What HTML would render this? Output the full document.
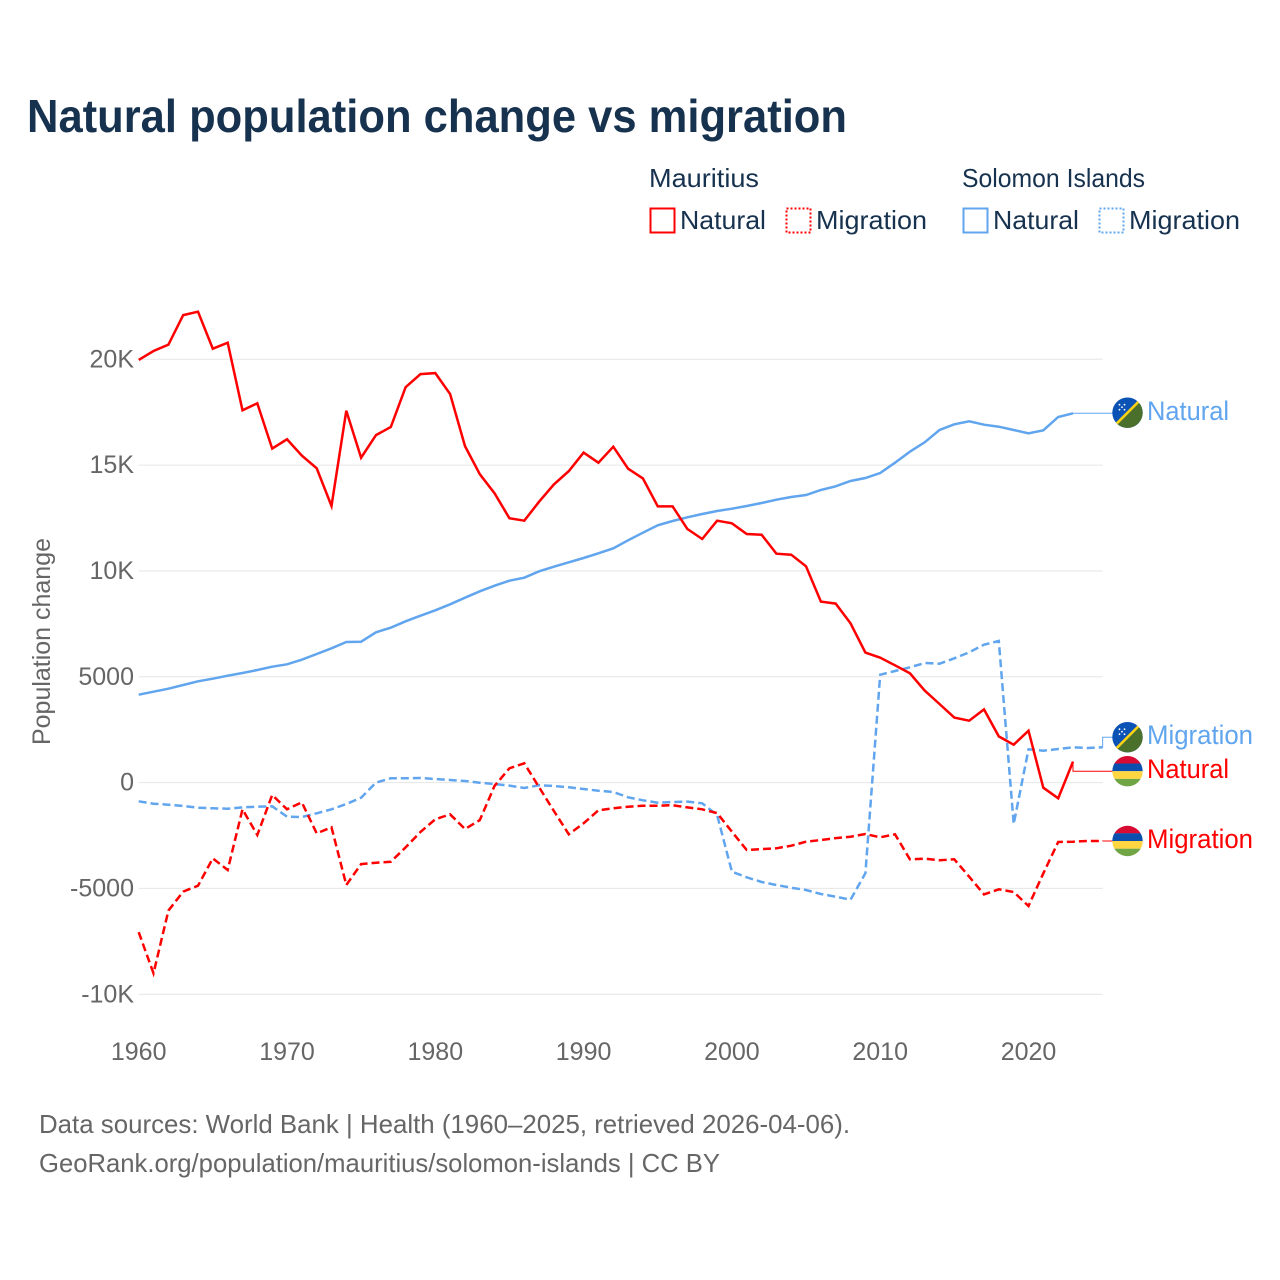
<!DOCTYPE html>
<html lang="en">
<head>
<meta charset="utf-8">
<title>Natural population change vs migration</title>
<style>
html,body{margin:0;padding:0;background:#fff;}
svg{display:block;font-family:"Liberation Sans",sans-serif;}
</style>
</head>
<body>
<svg id="chart" xmlns="http://www.w3.org/2000/svg" width="1280" height="1280" viewBox="0 0 1280 1280">
  <defs>
    <clipPath id="flag-clip"><circle cx="0" cy="0" r="15.2"/></clipPath>
    <symbol id="flag-sb" overflow="visible">
      <g clip-path="url(#flag-clip)">
        <rect x="-16" y="-16" width="32" height="32" fill="#0b52b5"/>
        <polygon points="16,-16 16,16 -16,16" fill="#4a702c"/>
        <line x1="-16" y1="16" x2="16" y2="-16" stroke="#fcd116" stroke-width="2.6"/>
        <g fill="#fff">
          <circle cx="-8" cy="-8" r="0.9"/><circle cx="-3" cy="-8" r="0.9"/><circle cx="-5.5" cy="-5.5" r="0.9"/><circle cx="-8" cy="-3" r="0.9"/><circle cx="-3" cy="-3" r="0.9"/>
        </g>
      </g>
    </symbol>
    <symbol id="flag-mu" overflow="visible">
      <g clip-path="url(#flag-clip)">
        <rect x="-16" y="-16" width="32" height="8.4" fill="#d80c32"/>
        <rect x="-16" y="-7.7" width="32" height="7.7" fill="#0b4fae"/>
        <rect x="-16" y="0" width="32" height="7.7" fill="#ffd642"/>
        <rect x="-16" y="7.7" width="32" height="8.4" fill="#70a545"/>
      </g>
    </symbol>
  </defs>

  <text x="27" y="132" font-size="46" font-weight="700" fill="#17324f" textLength="820" lengthAdjust="spacingAndGlyphs">Natural population change vs migration</text>

  <g font-size="26" fill="#17324f">
    <text x="649" y="187" textLength="110" lengthAdjust="spacingAndGlyphs">Mauritius</text>
    <text x="962" y="187" textLength="183" lengthAdjust="spacingAndGlyphs">Solomon Islands</text>
    <g>
      <rect x="650.5" y="208.5" width="24" height="24" fill="none" stroke="#ff0000" stroke-width="2"/>
      <text x="680" y="229" textLength="86" lengthAdjust="spacingAndGlyphs">Natural</text>
    </g>
    <g>
      <rect x="786.5" y="208.5" width="24" height="24" fill="none" stroke="#ff0000" stroke-width="2" stroke-dasharray="2 2"/>
      <text x="816" y="229" textLength="111" lengthAdjust="spacingAndGlyphs">Migration</text>
    </g>
    <g>
      <rect x="963.5" y="208.5" width="24" height="24" fill="none" stroke="#60a5ee" stroke-width="2"/>
      <text x="993" y="229" textLength="86" lengthAdjust="spacingAndGlyphs">Natural</text>
    </g>
    <g>
      <rect x="1099.5" y="208.5" width="24" height="24" fill="none" stroke="#60a5ee" stroke-width="2" stroke-dasharray="2 2"/>
      <text x="1129" y="229" textLength="111" lengthAdjust="spacingAndGlyphs">Migration</text>
    </g>
  </g>

  <g id="grid"></g>
  <g id="y-ticks" font-size="25" fill="#666666" text-anchor="end"></g>
  <g id="x-ticks" font-size="25" fill="#666666" text-anchor="middle"></g>
  <text transform="translate(50 745) rotate(-90)" font-size="25" fill="#666666" textLength="207" lengthAdjust="spacingAndGlyphs">Population change</text>

  <g id="series"></g>

  <g font-size="27">
    <use href="#flag-sb" x="1127.5" y="412.7"/>
    <text x="1147" y="420" fill="#60a5ee" textLength="82" lengthAdjust="spacingAndGlyphs">Natural</text>
    <use href="#flag-sb" x="1127.5" y="737.2"/>
    <text x="1147" y="744" fill="#60a5ee" textLength="106" lengthAdjust="spacingAndGlyphs">Migration</text>
    <use href="#flag-mu" x="1127.5" y="771.2"/>
    <text x="1147" y="778" fill="#ff0000" textLength="82" lengthAdjust="spacingAndGlyphs">Natural</text>
    <use href="#flag-mu" x="1127.5" y="841"/>
    <text x="1147" y="848" fill="#ff0000" textLength="106" lengthAdjust="spacingAndGlyphs">Migration</text>
  </g>

  <g font-size="26" fill="#666666">
    <text x="39" y="1133" textLength="811" lengthAdjust="spacingAndGlyphs">Data sources: World Bank | Health (1960–2025, retrieved 2026-04-06).</text>
    <text x="39" y="1172" textLength="681" lengthAdjust="spacingAndGlyphs">GeoRank.org/population/mauritius/solomon-islands | CC BY</text>
  </g>
</svg>
<script>
var startYear = 1960;
var xTickYears = [1960, 1970, 1980, 1990, 2000, 2010, 2020];
var yTickValues = [20000, 15000, 10000, 5000, 0, -5000, -10000];
var yTickLabels = ["20K", "15K", "10K", "5000", "0", "-5000", "-10K"];

var mauritiusNatural = [19970, 20390, 20690, 22090, 22250, 20500, 20785, 17590, 17920, 15780, 16220, 15450, 14850, 13070, 17570, 15350, 16420, 16800, 18680, 19300, 19350, 18360, 15900, 14570, 13670, 12490, 12375, 13270, 14090, 14720, 15590, 15115, 15870, 14830, 14375, 13050, 13050, 11980, 11510, 12375, 12250, 11745, 11715, 10815, 10770, 10220, 8550, 8455, 7525, 6140, 5900, 5540, 5165, 4345, 3715, 3070, 2925, 3460, 2185, 1790, 2450, -240, -740, 990];
var mauritiusMigration = [-7070, -9010, -6050, -5150, -4870, -3580, -4130, -1260, -2475, -585, -1260, -930, -2400, -2110, -4840, -3850, -3785, -3740, -3060, -2330, -1735, -1500, -2190, -1770, -150, 675, 910, -220, -1340, -2445, -1925, -1310, -1215, -1140, -1090, -1090, -1070, -1170, -1260, -1440, -2320, -3185, -3140, -3105, -2980, -2790, -2710, -2620, -2555, -2430, -2585, -2445, -3625, -3595, -3670, -3625, -4445, -5280, -5040, -5170, -5830, -4290, -2805, -2790, -2760, -2760];
var solomonNatural = [4155, 4295, 4437, 4611, 4787, 4909, 5051, 5178, 5320, 5476, 5589, 5807, 6076, 6345, 6643, 6657, 7101, 7319, 7621, 7886, 8141, 8424, 8737, 9040, 9302, 9540, 9681, 9985, 10202, 10408, 10611, 10835, 11071, 11449, 11808, 12157, 12360, 12535, 12691, 12833, 12941, 13069, 13210, 13366, 13494, 13588, 13825, 13999, 14250, 14392, 14628, 15115, 15634, 16078, 16660, 16929, 17071, 16910, 16815, 16660, 16504, 16645, 17274, 17449];
var solomonMigration = [-885, -995, -1042, -1105, -1185, -1216, -1232, -1169, -1137, -1122, -1610, -1626, -1452, -1263, -1012, -712, 0, 202, 202, 218, 171, 124, 76, -3, -66, -143, -255, -129, -160, -223, -302, -381, -444, -696, -838, -948, -916, -900, -979, -1531, -4208, -4476, -4697, -4838, -4964, -5075, -5264, -5390, -5533, -4285, 5100, 5273, 5446, 5650, 5620, 5872, 6155, 6517, 6690, -1956, 1571, 1508, 1587, 1666, 1635, 1666];

var SVGNS = "http://www.w3.org/2000/svg";
function xScale(year) { return 138.7 + (year - 1960) * 14.83; }
function yScale(value) { return 782.6 - value * 0.021165; }

function make(tag, parent, name) {
  var el = document.createElementNS(SVGNS, tag);
  
  
  parent.appendChild(el);
  return el;
}

var gridGroup = document.getElementById('grid');
var yTickGroup = document.getElementById('y-ticks');
var xTickGroup = document.getElementById('x-ticks');
var seriesGroup = document.getElementById('series');

yTickValues.forEach(function (value, i) {
  var line = make('line', gridGroup, 'gridline-' + yTickLabels[i]);
  line.setAttribute('x1', xScale(1960));
  line.setAttribute('x2', xScale(2025));
  line.setAttribute('y1', yScale(value));
  line.setAttribute('y2', yScale(value));
  line.setAttribute('stroke', '#e6e6e6');
  line.setAttribute('stroke-width', '1');
  var label = make('text', yTickGroup, 'y-tick-' + yTickLabels[i]);
  label.setAttribute('x', 134);
  label.setAttribute('y', yScale(value) + 8);
  label.textContent = yTickLabels[i];
});

xTickYears.forEach(function (year) {
  var label = make('text', xTickGroup, 'x-tick-' + year);
  label.setAttribute('x', xScale(year));
  label.setAttribute('y', 1060);
  label.textContent = String(year);
});

function pointsFor(values) {
  return values.map(function (value, i) {
    return xScale(startYear + i).toFixed(1) + ',' + yScale(value).toFixed(1);
  }).join(' ');
}

function drawSeries(values, name, color, dashed, flagY) {
  var line = make('polyline', seriesGroup, 'line-' + name);
  line.setAttribute('points', pointsFor(values));
  line.setAttribute('fill', 'none');
  line.setAttribute('stroke', color);
  line.setAttribute('stroke-width', '2.5');
  line.setAttribute('stroke-linejoin', 'miter');
  if (dashed) {
    line.setAttribute('stroke-dasharray', '8 4');
  }
  var lastX = xScale(startYear + values.length - 1);
  var lastY = yScale(values[values.length - 1]);
  var connector = make('path', seriesGroup, 'connector-' + name);
  connector.setAttribute('d', 'M' + lastX + ' ' + lastY + 'V' + flagY + 'H1113');
  connector.setAttribute('fill', 'none');
  connector.setAttribute('stroke', color);
  connector.setAttribute('stroke-width', '1');
}

drawSeries(solomonNatural, 'solomon-natural', '#60a5ee', false, 413.2);
drawSeries(solomonMigration, 'solomon-migration', '#60a5ee', true, 737.3);
drawSeries(mauritiusNatural, 'mauritius-natural', '#ff0000', false, 771.3);
drawSeries(mauritiusMigration, 'mauritius-migration', '#ff0000', true, 841);
</script>
</body>
</html>
